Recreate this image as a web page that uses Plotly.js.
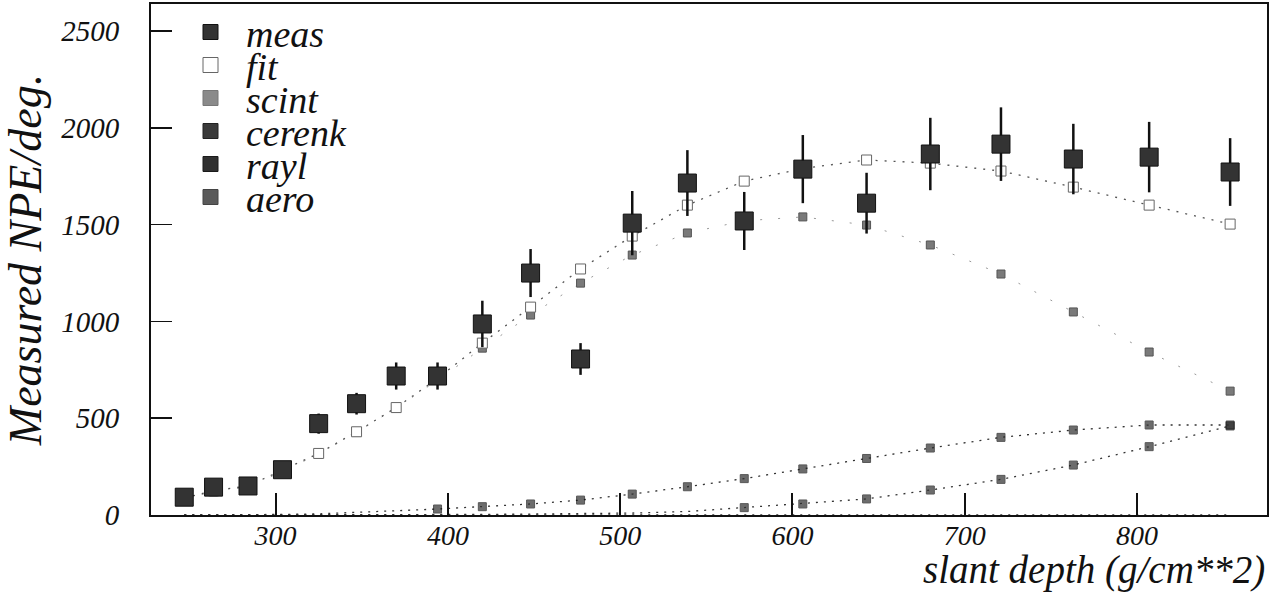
<!DOCTYPE html>
<html><head><meta charset="utf-8">
<script src="https://cdn.plot.ly/plotly-3.0.1.min.js"></script>
<style>html,body{margin:0;padding:0;background:#fff}#chart{width:1273px;height:593px}</style>
</head><body><div id="chart"></div>
<script>
// slant depth (g/cm**2)
const depth   = [247, 264, 284, 304, 325, 347, 370, 394, 420, 448, 477, 507, 539, 572, 606, 643, 680, 721, 763, 807, 854];
const meas    = [92, 144, 150, 234, 472, 575, 718, 718, 987, 1250, 806, 1508, 1715, 1519, 1787, 1611, 1865, 1916, 1839, 1849, 1772];
const measErr = [25, 30, 30, 35, 52, 56, 70, 70, 120, 124, 82, 166, 170, 150, 176, 157, 187, 190, 182, 182, 175];
const fit     = [88, 125, 150, 230, 318, 430, 555, 705, 888, 1074, 1271, 1441, 1601, 1725, 1790, 1834, 1818, 1777, 1694, 1601, 1503];
const scint   = [85, 120, 145, 225, 315, 427, 552, 697, 862, 1033, 1198, 1343, 1457, 1520, 1540, 1498, 1395, 1245, 1049, 842, 640];
const cerenk  = [0, 0, 0, 0, 0, 0, 0, 0, 0, 0, 0, 0, 0, 0, 0, 0, 0, 0, 0, 0, 0];
const rayl    = [0, 0, 1, 3, 6, 12, 22, 31, 43, 57, 77, 108, 146, 188, 238, 292, 346, 401, 439, 465, 465];
const aero    = [0, 0, 0, 0, 0, 0, 1, 2, 3, 5, 7, 10, 18, 38, 57, 83, 129, 184, 258, 353, 460];

const seriesNames = ['meas', 'fit', 'scint', 'cerenk', 'rayl', 'aero'];
const xTicks = [300, 400, 500, 600, 700, 800];
const yTicks = [0, 500, 1000, 1500, 2000, 2500];

const SERIF = 'Liberation Serif, Times New Roman, DejaVu Serif, serif';

const keyStyle = {
  meas:   {fill: '#333333', line: '#111111'},
  fit:    {fill: '#ffffff', line: '#666666'},
  scint:  {fill: '#8a8a8a', line: '#777777'},
  cerenk: {fill: '#3a3a3a', line: '#222222'},
  rayl:   {fill: '#303030', line: '#1a1a1a'},
  aero:   {fill: '#5a5a5a', line: '#444444'}
};

// points lying on the axis are hidden by the frame in the reference
const hideLow = arr => arr.map(v => (v >= 30 ? 8 : 0));

const traces = [
  {x: depth, y: cerenk, mode: 'lines', name: 'cerenk', showlegend: false,
   line: {color: '#333', width: 1.3, dash: '2px,6px'}},
  {x: depth, y: aero, mode: 'lines+markers', name: 'aero', showlegend: false,
   line: {color: '#333', width: 1.3, dash: '2px,6px'},
   marker: {symbol: 'square', size: hideLow(aero), color: '#2f2f2f', line: {color: '#111', width: 1}}},
  {x: depth, y: rayl, mode: 'lines+markers', name: 'rayl', showlegend: false,
   line: {color: '#333', width: 1.3, dash: '2px,6px'},
   marker: {symbol: 'square', size: hideLow(rayl), color: '#2f2f2f', line: {color: '#111', width: 1}}},
  {x: depth, y: scint, mode: 'lines+markers', name: 'scint', showlegend: false,
   line: {color: '#999', width: 1, dash: '2px,16px'},
   marker: {symbol: 'square', size: 8, color: '#7a7a7a', line: {color: '#555', width: 1}}},
  {x: depth, y: fit, mode: 'lines+markers', name: 'fit', showlegend: false,
   line: {color: '#555', width: 1.3, dash: '2px,7px'},
   marker: {symbol: 'square', size: 10, color: '#ffffff', line: {color: '#666', width: 1}}},
  {x: depth, y: meas, mode: 'markers', name: 'meas', showlegend: false,
   error_y: {type: 'data', array: measErr, visible: true, color: '#111', thickness: 2.5, width: 0},
   marker: {symbol: 'square', size: 18, color: '#333333', line: {color: '#111', width: 1}}}
];

// manual legend (keys + labels), placed in paper coordinates
const plotL = 151, plotT = 4, plotW = 1116, plotH = 511;
const px2x = p => (p - plotL) / plotW;
const py2y = p => 1 - (p - plotT) / plotH;
const shapes = [], annotations = [];
seriesNames.forEach((nm, i) => {
  const cy = 32 + i * 33;
  const st = keyStyle[nm];
  shapes.push({type: 'rect', xref: 'paper', yref: 'paper',
    x0: px2x(203), x1: px2x(218), y0: py2y(cy + 7.5), y1: py2y(cy - 7.5),
    fillcolor: st.fill, line: {color: st.line, width: 1}});
  annotations.push({xref: 'paper', yref: 'paper', x: px2x(244), y: py2y(cy + 2),
    xanchor: 'left', yanchor: 'middle', showarrow: false, text: nm,
    font: {family: SERIF, size: 38, style: 'italic', color: '#111'}});
});
annotations.push({xref: 'paper', yref: 'paper', x: 1.0, y: py2y(570), xanchor: 'right', yanchor: 'middle',
  showarrow: false, text: 'slant depth (g/cm**2)',
  font: {family: SERIF, size: 39, style: 'italic', color: '#111'}});

const layout = {
  width: 1273, height: 593,
  margin: {l: 151, r: 6, t: 4, b: 78, pad: 0},
  paper_bgcolor: '#fff', plot_bgcolor: '#fff',
  showlegend: false,
  xaxis: {range: [227.7, 875.4], tickvals: xTicks, ticktext: xTicks.map(String),
    ticks: 'inside', ticklen: 22, tickwidth: 2, tickcolor: '#111',
    showline: true, linecolor: '#111', linewidth: 2, mirror: true,
    showgrid: false, zeroline: false, ticklabelstandoff: -6,
    tickfont: {family: SERIF, size: 28, style: 'italic', color: '#111'}},
  yaxis: {range: [0, 2640], tickvals: yTicks, ticktext: yTicks.map(String),
    ticks: 'inside', ticklen: 21, tickwidth: 1.5, tickcolor: '#111',
    showline: true, linecolor: '#111', linewidth: 2, mirror: true,
    showgrid: false, zeroline: false, ticklabelstandoff: 24,
    tickfont: {family: SERIF, size: 29, style: 'italic', color: '#111'},
    title: {text: 'Measured NPE/deg.', standoff: 10,
      font: {family: SERIF, size: 46, style: 'italic', color: '#111'}}},
  shapes: shapes,
  annotations: annotations
};

Plotly.newPlot('chart', traces, layout, {displayModeBar: false, staticPlot: true});
</script>
</body></html>
